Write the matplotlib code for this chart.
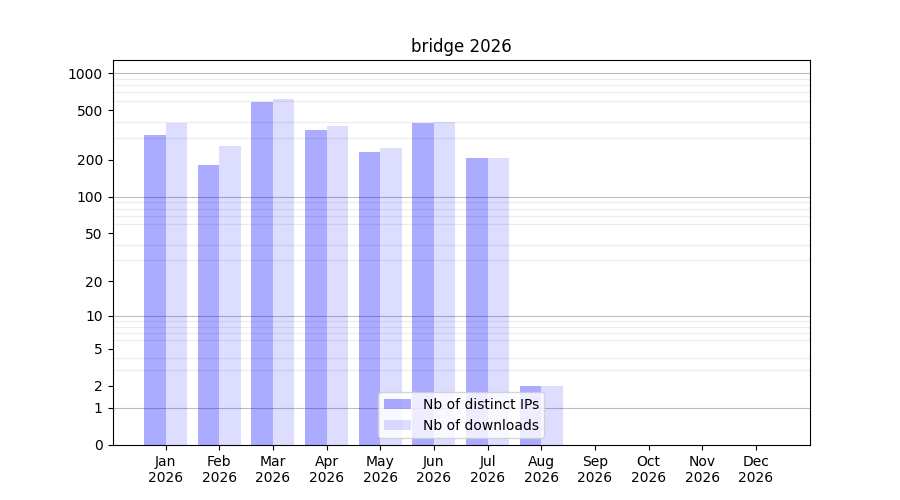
import numpy as np
import matplotlib
matplotlib.use("Agg")
import matplotlib.pyplot as plt

months = ["Jan", "Feb", "Mar", "Apr", "May", "Jun", "Jul", "Aug", "Sep", "Oct", "Nov", "Dec"]
year = "2026"
distinct_ips = [316, 180, 583, 346, 230, 394, 205, 2, 0, 0, 0, 0]
downloads = [394, 257, 617, 373, 247, 402, 205, 2, 0, 0, 0, 0]
ytick_vals = [0, 1, 2, 5, 10, 20, 50, 100, 200, 500, 1000]

fig, ax = plt.subplots(figsize=(9, 5), dpi=100)

fwd = lambda v: np.log10(1 + np.clip(v, 0, None))
inv = lambda v: 10 ** v - 1
ax.set_yscale("function", functions=(fwd, inv))

x = np.arange(len(months))
w = 0.4
ax.bar(x, distinct_ips, width=-w, align="edge", color="blue", alpha=0.33,
       label="Nb of distinct IPs", zorder=2)
ax.bar(x, downloads, width=w, align="edge", color="blue", alpha=0.133,
       label="Nb of downloads", zorder=2)

ax.set_ylim(0, 1278)
ax.set_xlim(-0.99, 12.01)

ax.set_yticks(ytick_vals)
ax.set_yticklabels([str(v) for v in ytick_vals])
minor = [m * 10 ** k for k in range(0, 4) for m in range(2, 10) if m * 10 ** k < 1278]
ax.set_yticks(minor, minor=True)
ax.tick_params(axis="y", which="minor", length=0)
ax.grid(True, axis="y", which="minor", color="#ececec", linewidth=0.8, zorder=0)
for d in [1, 10, 100, 1000]:
    ax.axhline(d, color="#bdbdbd", linewidth=0.8, zorder=1)

ax.set_xticks(x)
ax.set_xticklabels([f"{m}\n{year}" for m in months])
ax.set_title("bridge 2026")
ax.legend(loc="lower center")

fig.savefig("out.png", dpi=100)
